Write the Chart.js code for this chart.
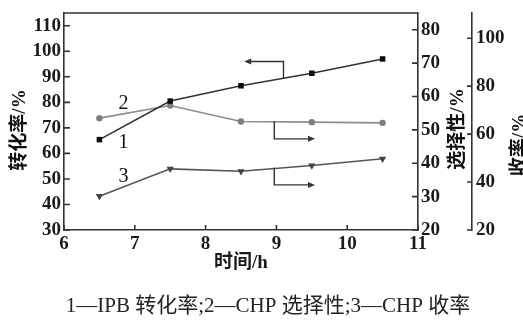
<!DOCTYPE html>
<html>
<head>
<meta charset="utf-8">
<script src="https://cdn.jsdelivr.net/npm/chart.js@4.4.1/dist/chart.umd.min.js"></script>
<style>
  html, body { margin: 0; padding: 0; background: #fff; }
  #wrap { width: 523px; height: 321px; }
</style>
</head>
<body>
<div id="wrap"><canvas id="plots" width="523" height="321"></canvas></div>
<script>
/* Data */
const times = [6.5, 7.5, 8.5, 9.5, 10.5];
const conversion = [65.4, 80.5, 86.5, 91.4, 97.0];   // 1 - IPB 转化率, left axis
const selectivity = [53.5, 57.3, 52.5, 52.3, 52.1];  // 2 - CHP 选择性, first right axis
const yieldVals = [34.1, 45.5, 44.5, 46.9, 49.7];    // 3 - CHP 收率, second right axis

/* Tick labels */
const xTicks = [6, 7, 8, 9, 10, 11];
const convTicks = [30, 40, 50, 60, 70, 80, 90, 100, 110];
const selTicks = [20, 30, 40, 50, 60, 70, 80];
const yieldTicks = [20, 40, 60, 80, 100];

/* Texts */
const xTitle = '时间/h';
const convTitle = '转化率/%';
const selTitle = '选择性/%';
const yieldTitle = '收率/%';
const caption = '1—IPB 转化率;2—CHP 选择性;3—CHP 收率';

const tickFont = { family: '"Liberation Serif", "Times New Roman", serif', size: 19, weight: 'bold' };
const cjkBold = 'bold 19px "Liberation Serif", "Noto Sans CJK SC", serif';

function pts(ys) {
    return times.map((t, i) => ({ x: t, y: ys[i] }));
}

function setTicks(list) {
    return function (scale) {
        scale.ticks = list.map(v => ({ value: v }));
    };
}

function fixSize(prop, size) {
    return function (scale) {
        scale[prop] = size;
        scale.paddingTop = 0;
        scale.paddingBottom = 0;
        scale.paddingLeft = 0;
        scale.paddingRight = 0;
    };
}

// arrows pointing each curve to its axis, given in data units
const arrows = [
    { axis: 'y', path: [[9.10, 89.4], [9.10, 96.0], [8.545, 96.0]] },
    { axis: 'y2', path: [[8.97, 52.5], [8.97, 47.3], [9.545, 47.3]] },
    { axis: 'y3', path: [[8.97, 46.0], [8.97, 38.8], [9.545, 38.8]] }
];
const curveLabels = [
    { text: '1', axis: 'y', x: 6.84, y: 64.1 },
    { text: '2', axis: 'y2', x: 6.84, y: 57.8 },
    { text: '3', axis: 'y3', x: 6.84, y: 42.0 }
];

const decorations = {
    id: 'decorations',
    afterDraw(chart) {
        const ctx = chart.ctx;
        const area = chart.chartArea;
        const sx = chart.scales.x;
        const s1 = chart.scales.y, s2 = chart.scales.y2, s3 = chart.scales.y3;
        ctx.save();
        ctx.strokeStyle = '#333';
        ctx.lineWidth = 1.6;

        // top frame line
        ctx.beginPath();
        ctx.moveTo(area.left, area.top);
        ctx.lineTo(area.right, area.top);
        ctx.stroke();

        // inward tick marks
        ctx.beginPath();
        xTicks.forEach(v => {
            const p = sx.getPixelForValue(v);
            ctx.moveTo(p, area.bottom);
            ctx.lineTo(p, area.bottom - 5);
        });
        convTicks.forEach(v => {
            const p = s1.getPixelForValue(v);
            ctx.moveTo(area.left, p);
            ctx.lineTo(area.left + 6, p);
        });
        selTicks.forEach(v => {
            const p = s2.getPixelForValue(v);
            ctx.moveTo(s2.left, p);
            ctx.lineTo(s2.left - 6, p);
        });
        yieldTicks.forEach(v => {
            const p = s3.getPixelForValue(v);
            ctx.moveTo(s3.left, p);
            ctx.lineTo(s3.left - 5, p);
        });
        ctx.stroke();

        // arrows
        ctx.fillStyle = '#333';
        ctx.lineWidth = 1.4;
        arrows.forEach(a => {
            const ys = chart.scales[a.axis];
            const p = a.path.map(q => [sx.getPixelForValue(q[0]), ys.getPixelForValue(q[1])]);
            const last = p[p.length - 1], prev = p[p.length - 2];
            const dir = Math.sign(last[0] - prev[0]);
            ctx.beginPath();
            ctx.moveTo(p[0][0], p[0][1]);
            for (let i = 1; i < p.length - 1; i++) ctx.lineTo(p[i][0], p[i][1]);
            ctx.lineTo(last[0] - dir * 5, last[1]);
            ctx.stroke();
            ctx.beginPath();
            ctx.moveTo(last[0], last[1]);
            ctx.lineTo(last[0] - dir * 7, last[1] - 3);
            ctx.lineTo(last[0] - dir * 7, last[1] + 3);
            ctx.closePath();
            ctx.fill();
        });

        // curve numbers
        ctx.fillStyle = '#111';
        ctx.font = '20px "Liberation Serif", serif';
        ctx.textAlign = 'center';
        ctx.textBaseline = 'middle';
        curveLabels.forEach(l => {
            ctx.fillText(l.text, sx.getPixelForValue(l.x), chart.scales[l.axis].getPixelForValue(l.y));
        });

        // vertical axis titles, all reading bottom to top
        ctx.font = cjkBold;
        [[convTitle, 20, 130], [selTitle, 458, 129], [yieldTitle, 520, 145]].forEach(t => {
            ctx.save();
            ctx.translate(t[1], t[2]);
            ctx.rotate(-Math.PI / 2);
            ctx.fillText(t[0], 0, 0);
            ctx.restore();
        });

        // caption
        ctx.font = '21px "Liberation Serif", "Noto Sans CJK SC", serif';
        ctx.fillStyle = '#222';
        ctx.fillText(caption, 268, 306);
        ctx.restore();
    }
};

const popCanvas = document.getElementById('plots').getContext('2d');

const lineChart = new Chart(popCanvas, {
    type: 'line',
    data: {
        datasets: [{
            label: 'IPB 转化率',
            data: pts(conversion),
            yAxisID: 'y',
            borderColor: '#333',
            backgroundColor: '#0d0d0d',
            borderWidth: 1.6,
            pointStyle: 'rect',
            pointRadius: 3.9,
            pointBorderWidth: 0
        }, {
            label: 'CHP 选择性',
            data: pts(selectivity),
            yAxisID: 'y2',
            borderColor: '#8c8c8c',
            backgroundColor: '#7e7e7e',
            borderWidth: 1.6,
            pointStyle: 'circle',
            pointRadius: 3.2,
            pointBorderWidth: 0
        }, {
            label: 'CHP 收率',
            data: pts(yieldVals),
            yAxisID: 'y3',
            borderColor: '#555',
            backgroundColor: '#444',
            borderWidth: 1.6,
            pointStyle: 'triangle',
            rotation: 180,
            pointRadius: 4.2,
            pointBorderWidth: 0
        }]
    },
    options: {
        responsive: false,
        animation: false,
        events: [],
        layout: { padding: { top: 13, left: 0, right: 0, bottom: 0 } },
        plugins: { legend: { display: false }, tooltip: { enabled: false } },
        scales: {
            x: {
                type: 'linear',
                position: 'bottom',
                min: 6,
                max: 11,
                afterBuildTicks: setTicks(xTicks),
                afterFit: fixSize('height', 91),
                grid: { display: false, drawTicks: false },
                border: { display: true, color: '#333', width: 1.6 },
                ticks: { font: tickFont, color: '#1a1a1a', padding: 3, maxRotation: 0, autoSkip: false },
                title: {
                    display: true,
                    text: xTitle,
                    font: { family: '"Liberation Serif", "Noto Sans CJK SC", serif', size: 19, weight: 'bold' },
                    color: '#1a1a1a',
                    padding: { top: 0, bottom: 47 }
                }
            },
            y: {
                position: 'left',
                min: 30,
                max: 115,
                afterBuildTicks: setTicks(convTicks),
                afterFit: fixSize('width', 64),
                grid: { display: false, drawTicks: false },
                border: { display: true, color: '#333', width: 1.6 },
                ticks: { font: tickFont, color: '#1a1a1a', padding: 3, autoSkip: false }
            },
            y2: {
                position: 'right',
                min: 20,
                max: 85,
                afterBuildTicks: setTicks(selTicks),
                afterFit: fixSize('width', 54),
                grid: { display: false, drawTicks: false },
                border: { display: true, color: '#333', width: 1.6 },
                ticks: { font: tickFont, color: '#1a1a1a', padding: 3, autoSkip: false }
            },
            y3: {
                position: 'right',
                min: 20,
                max: 110.5,
                afterBuildTicks: setTicks(yieldTicks),
                afterFit: fixSize('width', 51),
                grid: { display: false, drawTicks: false },
                border: { display: true, color: '#333', width: 1.6 },
                ticks: { font: tickFont, color: '#1a1a1a', padding: 4, autoSkip: false }
            }
        }
    },
    plugins: [decorations]
});
</script>
</body>
</html>
